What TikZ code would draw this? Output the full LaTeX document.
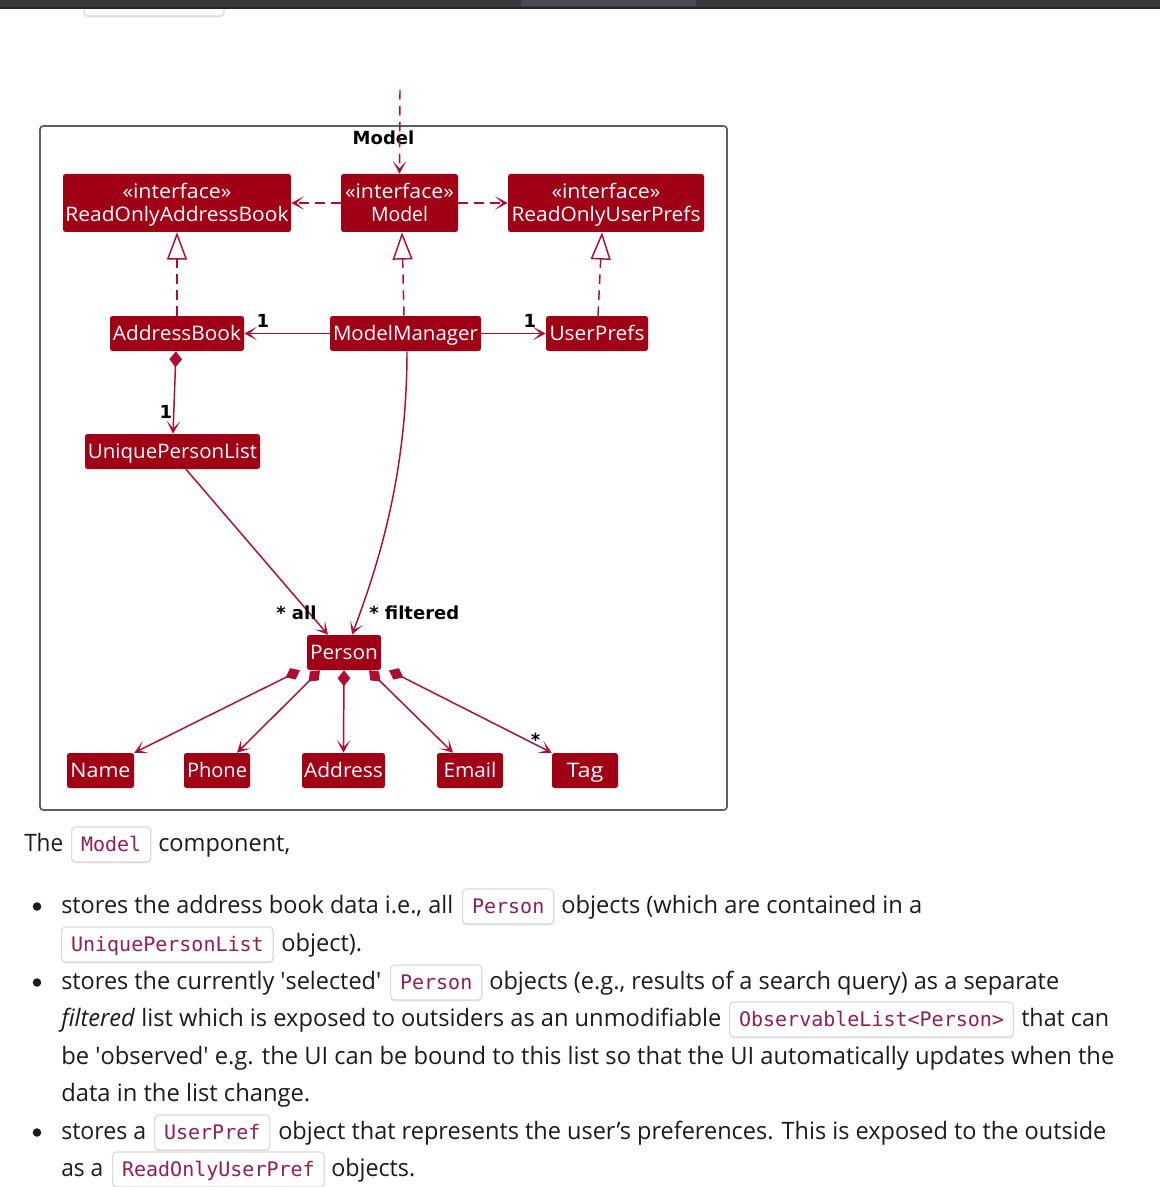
\documentclass[tikz,border=0pt]{standalone}
\usepackage{fontspec}
\usepackage{graphicx}
\setmainfont{Open Sans}
\setmonofont{DejaVu Sans Mono}
\newfontfamily\umlbold{DejaVu Sans}[BoldFont={DejaVu Sans Bold}]
\usetikzlibrary{arrows.meta,calc}

% one screen pixel
\newdimen\pxu \pxu=0.75pt
% squeeze or stretch a text horizontally to a width given in pixels
\newcommand\fitw[2]{\resizebox{#1\pxu}{\height}{#2}}
% first line of a stereotyped class box
\newcommand\stereo{\rule{0pt}{14.5pt}\fitw{109}{«interface»}}

\definecolor{boxred}{RGB}{160,0,22}
\definecolor{linered}{RGB}{172,14,52}
\definecolor{codecol}{RGB}{146,30,88}
\definecolor{bodytext}{RGB}{28,28,28}
\definecolor{framegray}{RGB}{95,95,95}
\definecolor{barbg}{RGB}{56,55,60}
\definecolor{barhi}{RGB}{74,73,79}
\definecolor{chipborder}{RGB}{218,218,218}

\begin{document}
\begin{tikzpicture}[x=0.75pt,y=-0.75pt,
  mw/.style={minimum width=#1*0.75pt},
  umlbase/.style={fill=boxred, rounded corners=1.9pt, text=white, inner sep=0pt,
    font=\fontsize{15}{17.6}\selectfont},
  cls/.style={umlbase, text height=11.25pt, text depth=1.5pt, minimum height=26.25pt},
  iface/.style={umlbase, align=center, minimum height=43.5pt},
  lbl/.style={font=\umlbold\bfseries\fontsize{13.5}{16}\selectfont, text=black, inner sep=0pt},
  umlline/.style={draw=linered, line width=1.1pt},
  tipv/.style={-{Stealth[length=9.5pt,width=10pt,inset=5.5pt]}},
  dep/.style={umlline, dash pattern=on 7pt off 5pt, tipv},
  real/.style={umlline, dash pattern=on 7pt off 5pt, -{Triangle[open,length=20.5pt,width=15pt,fill=white]}},
  assoc/.style={umlline, tipv},
  comp/.style={umlline, {Diamond[length=12pt,width=9.5pt]}-{Stealth[length=9.5pt,width=10pt,inset=5.5pt]}},
  body/.style={font=\fontsize{18}{22}\selectfont, text=bodytext, inner sep=0pt, anchor=base west},
  chip/.style={draw=chipborder, line width=0.9pt, fill=white, rounded corners=3pt,
    font=\fontsize{15}{18}\selectfont\ttfamily, text=codecol,
    inner xsep=7.1pt, inner ysep=0pt, text height=18pt, text depth=8.25pt, anchor=base west,
    preaction={fill=black!10, transform canvas={yshift=-1pt}}},
  bullet/.style={fill=bodytext}
]
\useasboundingbox (0,0) rectangle (1160,1187);
\fill[white] (0,0) rectangle (1160,1187);

% ---- browser chrome at the top ----
\draw[chipborder, line width=0.9pt, fill=white, rounded corners=3pt,
  preaction={fill=black!10, transform canvas={yshift=-1pt}}] (84,-10) rectangle (224,16);
\fill[barbg] (0,0) rectangle (1160,8);
\fill[barhi] (521,0) rectangle (696,6);
\draw[black!85, line width=1.2pt] (0,8) -- (1160,8);

% ---- package frame ----
\draw[framegray, line width=1.3pt, rounded corners=2.5pt] (40,126) rectangle (727,810);
\node[lbl, anchor=base] (title) at (383.5,145) {Model};

% ---- classes ----
\node[iface, mw=228] (rab) at (177,203)
  {\stereo\\\fitw{223}{ReadOnlyAddressBook}\vphantom{y}};
\node[iface, mw=117] (mi) at (399.5,203)
  {\stereo\\\fitw{57}{Model}\vphantom{y}};
\node[iface, mw=196] (rup) at (606,203)
  {\stereo\\\fitw{189}{ReadOnlyUserPrefs}\vphantom{y}};

\node[cls, mw=134] (ab) at (177,333.5) {\fitw{128}{AddressBook}};
\node[cls, mw=151] (mm) at (405.5,333.5) {\fitw{145}{ModelManager}};
\node[cls, mw=102] (up) at (597,333.5) {\fitw{95}{UserPrefs}};
\node[cls, mw=175] (upl) at (172.5,451.5) {\fitw{169}{UniquePersonList}};
\node[cls, mw=74] (person) at (344,652.5) {\fitw{68}{Person}};

\node[cls, mw=67] (name) at (100.5,770.5) {\fitw{60}{Name}};
\node[cls, mw=66] (phone) at (217,770.5) {\fitw{60}{Phone}};
\node[cls, mw=83] (addr) at (343.5,770.5) {\fitw{79}{Address}};
\node[cls, mw=66] (email) at (470,770.5) {\fitw{53}{Email}};
\node[cls, mw=66] (tag) at (585,770.5) {\fitw{37}{Tag}};

% ---- relations ----
\coordinate (outside) at (400,90);
\draw[dep] (outside) -- (mi.north);
\draw[dep] (mi.west) -- (rab.east);
\draw[dep] (mi.east) -- (rup.west);

\draw[real] (ab.north) -- (rab.south);
\draw[real] ($(mm.north)+(-1.5,0)$) -- ($(mi.south)+(2.5,0)$);
\draw[real] ($(up.north)+(1,0)$) -- ($(rup.south)+(-4,0)$);

\draw[assoc] (mm.west) -- (ab.east);
\draw[assoc] (mm.east) -- (up.west);
\draw[comp] ($(ab.south)+(-1,0)$) -- ($(upl.north)+(0.5,0)$);

\draw[assoc] ($(upl.south)+(13.5,0)$) -- ($(person.north)+(-16,0)$);
\draw[assoc] ($(mm.south)+(1.5,0)$) .. controls +(0,120) and +(28,-74) .. ($(person.north)+(8,0)$);

\draw[comp] ($(person.south)+(-44,0)$) -- (name.north east);
\draw[comp] ($(person.south)+(-24,0)$) -- ($(phone.north)+(20,0)$);
\draw[comp] (person.south) -- (addr.north);
\draw[comp] ($(person.south)+(25,0)$) -- ($(email.north)+(-17,0)$);
\draw[comp] ($(person.south)+(45,0)$) -- (tag.north west);

% ---- multiplicities and role names ----
\node[lbl, anchor=base] (mab) at (263,327) {1};
\node[lbl, anchor=base] (mup) at (530,327) {1};
\node[lbl, anchor=base] (mupl) at (166,418) {1};
\node[lbl, anchor=base west] (rall) at (276,619) {* all};
\node[lbl, anchor=base west] (rfil) at (369,619) {* filtered};
\node[lbl, anchor=base] (mtag) at (535.5,746) {*};

% ---- description text ----
\node[body] (p0a) at (24,851) {\fitw{39}{The}};
\node[chip] (c0) at (71,851) {Model};
\node[body] (p0b) at (158,851) {\fitw{132}{component,}};

\fill[bullet] (37,906.5) circle[radius=3.2pt];
\node[body] (p1a) at (61,913) {\fitw{392}{stores the address book data i.e., all}};
\node[chip] (c1) at (462,913) {Person};
\node[body] (p1b) at (561,913) {\fitw{361}{objects (which are contained in a}};
\node[chip] (c2) at (61,951) {UniquePersonList};
\node[body] (p2a) at (281,951) {\fitw{81}{object).}};

\fill[bullet] (37,982.5) circle[radius=3.2pt];
\node[body] (p3a) at (61,989) {\fitw{320}{stores the currently \textquotesingle selected\textquotesingle}};
\node[chip] (c3) at (390,989) {Person};
\node[body] (p3b) at (489,989) {\fitw{570}{objects (e.g., results of a search query) as a separate}};
\node[body] (p4a) at (61,1026) {\fitw{660}{\textit{filtered} list which is exposed to outsiders as an unmodifiable}};
\node[chip] (c4) at (729,1026) {ObservableList<Person>};
\node[body] (p4b) at (1021,1026) {\fitw{88}{that can}};
\node[body] (p5) at (61,1064) {\fitw{1053}{be \textquotesingle observed\textquotesingle\ e.g. the UI can be bound to this list so that the UI automatically updates when the}};
\node[body] (p6) at (61,1101) {\fitw{249}{data in the list change.}};

\fill[bullet] (37,1132.5) circle[radius=3.2pt];
\node[body] (p7a) at (61,1139) {\fitw{85}{stores a}};
\node[chip] (c5) at (154,1139) {UserPref};
\node[body] (p7b) at (278,1139) {\fitw{828}{object that represents the user’s preferences. This is exposed to the outside}};
\node[body] (p8a) at (61,1176) {\fitw{42}{as a}};
\node[chip] (c6) at (112,1176) {ReadOnlyUserPref};
\node[body] (p8b) at (331,1176) {\fitw{84}{objects.}};
\end{tikzpicture}
\end{document}
